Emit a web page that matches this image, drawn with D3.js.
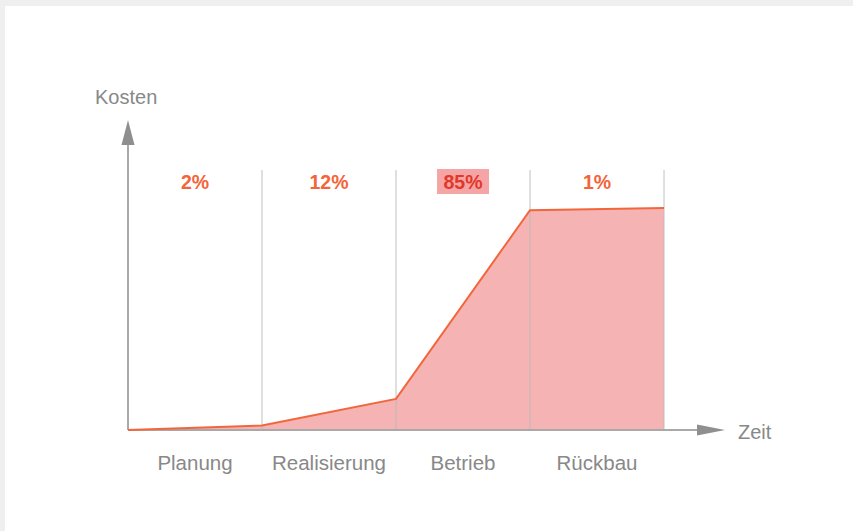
<!DOCTYPE html>
<html>
<head>
<meta charset="utf-8">
<script src="https://cdn.jsdelivr.net/npm/d3@7"></script>
<style>
  html, body { margin: 0; padding: 0; background: #efefef; }
  svg { display: block; }
</style>
</head>
<body>
<div id="chart"></div>
<script>
// Lebenszykluskosten: Anteil je Phase
var phases = ["Planung", "Realisierung", "Betrieb", "Rückbau"];
var shares = [2, 12, 85, 1];
var cumulative = [0, 2, 14, 99, 100];
var highlight = "Betrieb";

var W = 853, H = 531;

var svg = d3.select("#chart")
  .append("svg")
  .attr("width", W)
  .attr("height", H)
  .style("font-family", "'Liberation Sans', Arial, sans-serif");

// white panel
svg.append("rect")
  .attr("x", 5).attr("y", 6)
  .attr("width", W - 5).attr("height", H - 6)
  .attr("fill", "#ffffff");

var x = d3.scaleLinear()
  .domain([0, phases.length])
  .range([128, 664]);

var y = d3.scaleLinear()
  .domain([0, 100])
  .range([430, 208]);

var axisColor = "#a9a9a9";
var textColor = "#888888";

// area under cumulative costs
var area = d3.area()
  .x(function(d, i) { return x(i); })
  .y0(y(0))
  .y1(function(d) { return y(d); });

svg.append("path")
  .datum(cumulative)
  .attr("fill", "#f5b3b3")
  .attr("d", area);

// phase dividers
svg.selectAll(".divider")
  .data(d3.range(1, phases.length + 1))
  .enter().append("line")
  .attr("class", "divider")
  .attr("x1", function(d) { return x(d); })
  .attr("x2", function(d) { return x(d); })
  .attr("y1", 170)
  .attr("y2", y(0))
  .attr("stroke", "#bbbbbb")
  .attr("stroke-opacity", 0.7)
  .attr("stroke-width", 1.3);

// axes with arrow heads
svg.append("line")
  .attr("x1", x(0)).attr("x2", 700)
  .attr("y1", y(0)).attr("y2", y(0))
  .attr("stroke", axisColor)
  .attr("stroke-width", 2);

svg.append("line")
  .attr("x1", x(0)).attr("x2", x(0))
  .attr("y1", y(0)).attr("y2", 142)
  .attr("stroke", axisColor)
  .attr("stroke-width", 2);

svg.append("path")
  .attr("d", "M" + 697 + "," + (y(0) - 5.5) + "L725," + y(0) + "L697," + (y(0) + 5.5) + "Z")
  .attr("fill", "#8f8f8f");

svg.append("path")
  .attr("d", "M" + (x(0) - 6.5) + ",145L" + x(0) + ",120L" + (x(0) + 6.5) + ",145Z")
  .attr("fill", "#8f8f8f");

// cost line
svg.append("path")
  .datum(cumulative)
  .attr("fill", "none")
  .attr("stroke", "#f2663c")
  .attr("stroke-width", 2)
  .attr("d", d3.line()
    .x(function(d, i) { return x(i); })
    .y(function(d) { return y(d); }));

// axis titles
svg.append("text")
  .attr("x", 95).attr("y", 104)
  .attr("fill", textColor)
  .style("font-size", "20px")
  .text("Kosten");

svg.append("text")
  .attr("x", 738).attr("y", 439)
  .attr("fill", textColor)
  .style("font-size", "20px")
  .text("Zeit");

// phase names
svg.selectAll(".phase")
  .data(phases)
  .enter().append("text")
  .attr("class", "phase")
  .attr("x", function(d, i) { return x(i + 0.5); })
  .attr("y", 470)
  .attr("text-anchor", "middle")
  .attr("fill", textColor)
  .style("font-size", "20.5px")
  .text(function(d) { return d; });

// share labels
var hi = phases.indexOf(highlight);

svg.append("rect")
  .attr("x", x(hi + 0.5) - 26)
  .attr("y", 169)
  .attr("width", 52)
  .attr("height", 25)
  .attr("fill", "#f5a5a5");

svg.selectAll(".share")
  .data(shares)
  .enter().append("text")
  .attr("class", "share")
  .attr("x", function(d, i) { return x(i + 0.5); })
  .attr("y", 189)
  .attr("text-anchor", "middle")
  .attr("fill", function(d, i) { return i == hi ? "#e2382a" : "#f4643a"; })
  .style("font-size", "19.5px")
  .style("font-weight", "bold")
  .text(function(d) { return d + "%"; });
</script>
</body>
</html>
